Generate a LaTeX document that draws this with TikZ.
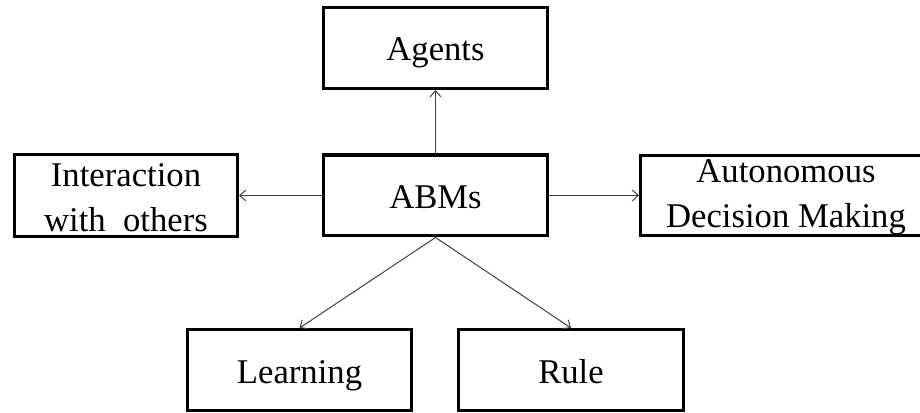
\documentclass[tikz,border=0pt]{standalone}
\usepackage{fontspec}
\setmainfont{Liberation Serif}
\usetikzlibrary{arrows.meta}
\begin{document}
\begin{tikzpicture}[x=0.75pt,y=-0.75pt,
  box/.style={draw=black, line width=2.3pt, rectangle, inner sep=0pt, align=center,
    font=\fontsize{26}{29}\selectfont, minimum width=227*0.75pt-2.3pt, minimum height=84*0.75pt-2.3pt},
  one/.style={text height=24pt, text depth=4.5pt},
  label/.style={align=center, inner sep=0pt, font=\fontsize{26}{29}\selectfont},
  conn/.style={draw=black!75, line width=0.75pt, -{Straight Barb[length=4.5pt,width=8pt]}}]
\useasboundingbox (0,0) rectangle (920,413);
\clip (0,0) rectangle (920,413);
\node[box, one] (agents) at (435.5,48) {Agents};
\node[box, one] (abms) at (435.5,195.5) {ABMs};
\node[box, minimum width=226*0.75pt-2.3pt, minimum height=85*0.75pt-2.3pt] (inter) at (126,195.5) {};
\node[label] (intertext) at (126,197.5) {Interaction\\[5pt]with\ \ others};
\node[box, minimum width=320*0.75pt-2.3pt, minimum height=83*0.75pt-2.3pt] (auto) at (799,195.5) {};
\node[label] (autotext) at (786,197) {Autonomous\\[5pt]Decision Making};
\node[box, one] (learn) at (299.5,370) {Learning};
\node[box, one, minimum width=228*0.75pt-2.3pt] (rule) at (571,370) {Rule};
\draw[conn] (abms.north) -- (agents.south);
\draw[conn] (abms.west) -- (inter.east);
\draw[conn] (abms.east) -- (auto.west);
\draw[conn] (abms.south) -- (learn.north);
\draw[conn] (abms.south) -- (rule.north);
\end{tikzpicture}
\end{document}
